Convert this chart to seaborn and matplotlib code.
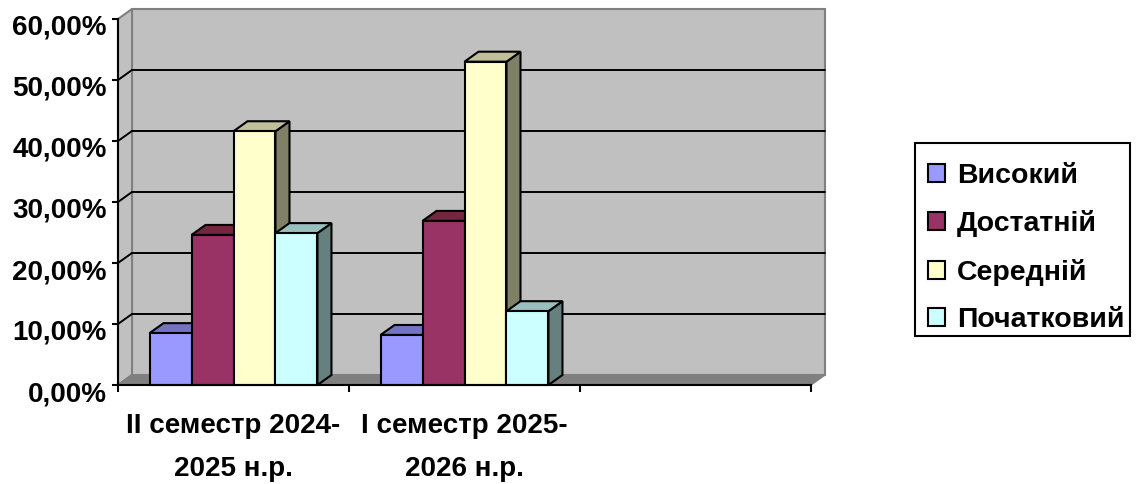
import pandas as pd
import matplotlib
matplotlib.use('Agg')
import matplotlib.pyplot as plt
import seaborn as sns
from matplotlib.patches import Polygon, Rectangle
from matplotlib.transforms import offset_copy, Affine2D

# Values
periods = ['II семестр 2024-\n2025 н.р.', 'I семестр 2025-\n2026 н.р.', ' ']
levels = ['Високий', 'Достатній', 'Середній', 'Початковий']
first_term = [8.5, 24.6, 41.6, 24.9]
second_term = [8.2, 26.9, 53.0, 12.1]
y_ticks = [0, 10, 20, 30, 40, 50, 60]

face_colors = ['#9999FF', '#993366', '#FFFFCC', '#CCFFFF']
top_colors = ['#7373BF', '#732640', '#BFBF99', '#99BFBF']
side_colors = ['#4D4D80', '#4D1A33', '#808066', '#668080']

df = pd.DataFrame({
    'period': [periods[0]] * 4 + [periods[1]] * 4,
    'level': levels * 2,
    'value': first_term + second_term,
})

W, H = 1137, 484
DX, DY = 14, 10  # depth of the fake 3D in pixels
FONT_SIZE = 20
LEGEND_SIZE = 20.5

sns.set_theme(style='white')
plt.rcParams['font.family'] = ['Liberation Sans', 'DejaVu Sans']

fig = plt.figure(figsize=(W / 100, H / 100), dpi=100)
ax = fig.add_axes([118 / W, 1 - 385 / H, (811 - 118) / W, (385 - 19) / H])

sns.barplot(data=df, x='period', y='value', hue='level', order=periods, hue_order=levels,
            palette=face_colors, saturation=1, width=0.727, gap=0,
            edgecolor='black', linewidth=1.5, ax=ax)

ax.set_xlim(-0.5, 2.5)
ax.set_ylim(0, 60)
ax.set_xlabel('')
ax.set_ylabel('')

back = offset_copy(ax.transData, fig, x=DX, y=DY, units='dots')
to_fig = fig.transFigure.inverted()


# corners mix the front and back planes, so go through pixels
def depth_poly(front_pts, back_pts, **kw):
    px = [ax.transData.transform(p) for p in front_pts]
    px += [back.transform(p) for p in back_pts]
    poly = Polygon([to_fig.transform(p) for p in px], closed=True,
                   transform=fig.transFigure, clip_on=False, **kw)
    ax.add_artist(poly)


def depth_line(x, y, **kw):
    a = to_fig.transform(ax.transData.transform((x, y)))
    b = to_fig.transform(back.transform((x, y)))
    ax.add_artist(plt.Line2D([a[0], b[0]], [a[1], b[1]], transform=fig.transFigure, **kw))


fig.canvas.draw()
x0, x1 = ax.get_xlim()
y0, y1 = ax.get_ylim()

# back wall, side wall and floor
ax.add_patch(Polygon([(x0, y0), (x1, y0), (x1, y1), (x0, y1)], closed=True, transform=back,
                     facecolor='#C0C0C0', edgecolor='#808080', lw=1.5, zorder=0.5, clip_on=False))
depth_poly([(x0, y0), (x0, y1)], [(x0, y1), (x0, y0)], facecolor='#C0C0C0',
           edgecolor='#808080', lw=1.5, zorder=0.6)
depth_poly([(x0, y0), (x1, y0)], [(x1, y0), (x0, y0)], facecolor='#808080',
           edgecolor='#808080', lw=1, zorder=0.7)

# gridlines on the wall plus the diagonals on the side wall
for t in y_ticks[1:-1]:
    ax.plot([x0, x1], [t, t], transform=back, color='black', lw=1.4, zorder=0.8, clip_on=False)
    depth_line(x0, t, color='black', lw=1.4, zorder=0.8)
for t in [y0, y1]:
    depth_line(x0, t, color='#808080', lw=1.5, zorder=0.85)
depth_line(x1, y0, color='black', lw=1.4, zorder=2.5)

# tops and sides of the bars, from the bars seaborn drew
bars = []
for container, tc, sc in zip(ax.containers, top_colors, side_colors):
    for bar in container:
        if bar.get_height() > 0:
            bars.append((bar, tc, sc))
bars.sort(key=lambda item: item[0].get_x())

z = 1.0
for bar, tc, sc in bars:
    left, right = bar.get_x(), bar.get_x() + bar.get_width()
    h = bar.get_height()
    depth_poly([(right, 0), (right, h)], [(right, h), (right, 0)], facecolor=sc,
               edgecolor='black', lw=1.5, zorder=z)
    depth_poly([(left, h), (right, h)], [(right, h), (left, h)], facecolor=tc,
               edgecolor='black', lw=1.5, zorder=z)
    bar.set_zorder(z + 0.1)
    bar.set_clip_on(False)
    z += 0.2

# axes
for name in ['top', 'right']:
    ax.spines[name].set_visible(False)
for name in ['left', 'bottom']:
    ax.spines[name].set_color('black')
    ax.spines[name].set_linewidth(1.5)
    ax.spines[name].set_zorder(3)

ax.set_yticks(y_ticks)
ax.set_yticklabels([f'{t:.2f}'.replace('.', ',') + '%' for t in y_ticks])
ax.tick_params(axis='y', length=4.5, width=1.5, color='black', pad=3.5, labelsize=FONT_SIZE, left=True)
label_shift = Affine2D().translate(0, -6)
for lab in ax.get_yticklabels():
    lab.set_transform(lab.get_transform() + label_shift)
    lab.set_fontweight('bold')
    lab.set_color('black')

ax.set_xticks([0, 1, 2])
ax.set_xticklabels(periods, linespacing=1.85, fontsize=FONT_SIZE, fontweight='bold', color='black')
ax.set_xticks([-0.5, 0.5, 1.5, 2.5], minor=True)
ax.tick_params(axis='x', which='minor', length=5, width=1.5, color='black', bottom=True)
ax.tick_params(axis='x', which='major', length=0, pad=20)

# the text sits low in the reference box, so the frame is a separate rectangle
fig.add_artist(Rectangle((915 / W, 1 - 336 / H), 215 / W, 193 / H, transform=fig.transFigure,
                         facecolor='white', edgecolor='black', lw=1.5, zorder=-1))
legend = ax.legend(loc='upper left', bbox_to_anchor=(915 / W, 1 - 150 / H), bbox_transform=fig.transFigure,
                   title=None, frameon=False, handlelength=0.6, handleheight=0.6, handletextpad=0.42,
                   labelspacing=0.75, borderaxespad=0, borderpad=0.46,
                   prop={'weight': 'bold', 'size': LEGEND_SIZE})
for text in legend.get_texts():
    text.set_color('black')

fig.savefig('out.png', dpi=100)
